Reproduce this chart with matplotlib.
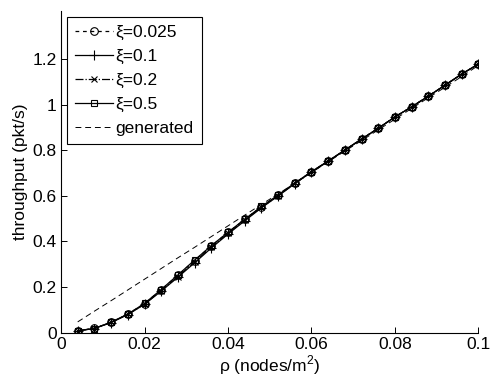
import matplotlib
matplotlib.use("Agg")
import matplotlib.pyplot as plt
from matplotlib.ticker import FixedLocator, FixedFormatter

plt.rcParams['font.family'] = ['Liberation Sans', 'DejaVu Sans']
plt.rcParams['mathtext.fontset'] = 'custom'
plt.rcParams['mathtext.rm'] = 'Liberation Sans'

# node density (nodes/m^2)
rho = [0.004, 0.008, 0.012, 0.016, 0.020, 0.024, 0.028, 0.032, 0.036, 0.040,
       0.044, 0.048, 0.052, 0.056, 0.060, 0.064, 0.068, 0.072, 0.076, 0.080,
       0.084, 0.088, 0.092, 0.096, 0.100]

# throughput (pkt/s) per xi value
thr_xi_0025 = [0.008, 0.019, 0.045, 0.081, 0.127, 0.188, 0.251, 0.316, 0.380, 0.439,
               0.496, 0.552, 0.602, 0.655, 0.705, 0.752, 0.800, 0.849, 0.896, 0.946,
               0.990, 1.037, 1.085, 1.134, 1.178]
thr_xi_01 = [0.008, 0.018, 0.044, 0.079, 0.124, 0.182, 0.243, 0.306, 0.371, 0.432,
             0.490, 0.547, 0.599, 0.653, 0.704, 0.751, 0.800, 0.848, 0.896, 0.946,
             0.990, 1.037, 1.085, 1.134, 1.178]
thr_xi_02 = [0.008, 0.018, 0.045, 0.080, 0.125, 0.184, 0.246, 0.310, 0.375, 0.435,
             0.493, 0.549, 0.600, 0.654, 0.705, 0.752, 0.800, 0.849, 0.896, 0.946,
             0.990, 1.037, 1.085, 1.134, 1.178]
thr_xi_05 = [0.008, 0.018, 0.046, 0.081, 0.128, 0.189, 0.253, 0.318, 0.381, 0.440,
             0.497, 0.553, 0.603, 0.656, 0.706, 0.753, 0.801, 0.849, 0.896, 0.946,
             0.990, 1.037, 1.085, 1.134, 1.178]
# generated traffic
thr_generated = [0.047, 0.094, 0.140, 0.187, 0.234, 0.281, 0.328, 0.374, 0.421, 0.468,
                 0.515, 0.562, 0.608, 0.655, 0.702, 0.749, 0.796, 0.842, 0.889, 0.936,
                 0.983, 1.030, 1.076, 1.123, 1.172]

xticks = [0, 0.02, 0.04, 0.06, 0.08, 0.1]
xtick_labels = ['0', '0.02', '0.04', '0.06', '0.08', '0.1']
yticks = [0, 0.2, 0.4, 0.6, 0.8, 1.0, 1.2]
ytick_labels = ['0', '0.2', '0.4', '0.6', '0.8', '1', '1.2']

fig = plt.figure(figsize=(4.9, 3.81), dpi=100)
ax = fig.add_axes([0.1245, 0.127, 0.852, 0.844])

ms = 5.5
lw = 0.9
ax.plot(rho, thr_xi_0025, '--o', color='black', lw=lw, ms=ms, mfc='none', mew=0.8,
        dashes=(3, 3), label='ξ=0.025')
ax.plot(rho, thr_xi_01, '-+', color='black', lw=lw, ms=ms + 1.5, mew=0.8, label='ξ=0.1')
ax.plot(rho, thr_xi_02, '-.x', color='black', lw=lw, ms=ms - 1, mew=0.8, label='ξ=0.2')
ax.plot(rho, thr_xi_05, '-s', color='black', lw=lw, ms=ms - 0.5, mfc='none', mew=0.8,
        label='ξ=0.5')
ax.plot(rho, thr_generated, '--', color='black', lw=0.7, dashes=(6, 4), label='generated')

ax.set_xlim(0, 0.1)
ax.set_ylim(0, 1.41)
ax.xaxis.set_major_locator(FixedLocator(xticks))
ax.xaxis.set_major_formatter(FixedFormatter(xtick_labels))
ax.yaxis.set_major_locator(FixedLocator(yticks))
ax.yaxis.set_major_formatter(FixedFormatter(ytick_labels))
ax.tick_params(direction='in', length=4, width=0.7, labelsize=12.5, pad=3)

ax.spines['top'].set_visible(False)
ax.spines['right'].set_visible(False)
for s in ('left', 'bottom'):
    ax.spines[s].set_linewidth(0.8)

ax.set_xlabel('ρ (nodes/m$^2$)', fontsize=12.5, labelpad=1)
ax.set_ylabel('throughput (pkt/s)', fontsize=12.5, labelpad=3)

leg = ax.legend(loc='upper left', fontsize=12.5, handlelength=2.2, handletextpad=0.15,
                labelspacing=0.5, borderpad=0.45, fancybox=False, framealpha=1,
                edgecolor='black', borderaxespad=0.35)
leg.get_frame().set_linewidth(0.8)

fig.savefig('out.png', dpi=100)
